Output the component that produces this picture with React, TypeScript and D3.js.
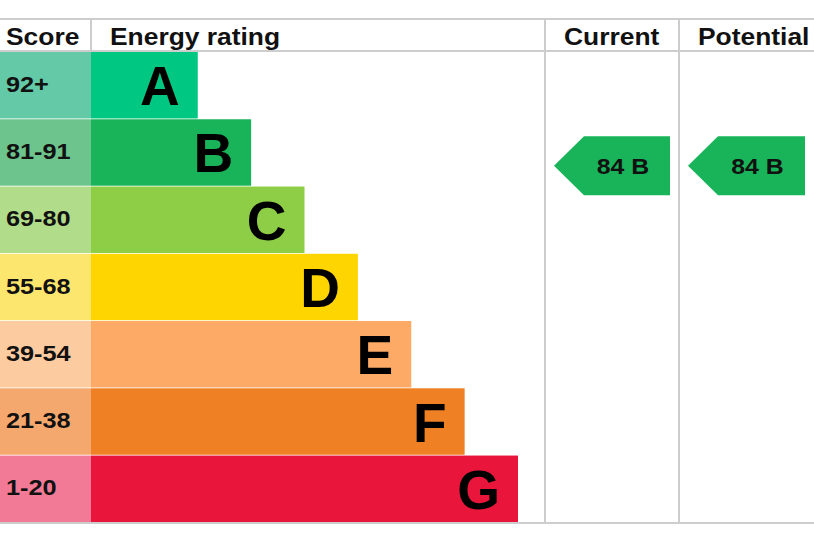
import React, { useEffect, useRef } from 'react';
import * as d3 from 'd3';

// EPC bands, top to bottom
const bands = ['A', 'B', 'C', 'D', 'E', 'F', 'G'];
const scoreLabels = ['92+', '81-91', '69-80', '55-68', '39-54', '21-38', '1-20'];
const bandMin = [92, 81, 69, 55, 39, 21, 1];
const bandMax = [100, 91, 80, 68, 54, 38, 20];
const barColors = ['#00c781', '#19b459', '#8dce46', '#ffd500', '#fcaa65', '#ef8023', '#e9153b'];
const scoreColors = ['#63c9a6', '#6dc48d', '#b1dd8a', '#fde66e', '#fccba0', '#f5a86e', '#f27a96'];

const columns = ['Current', 'Potential'];
const ratings = [84, 84];

const App: React.FC = () => {
    const svgRef = useRef<SVGSVGElement>(null);

    useEffect(() => {
        d3.select(svgRef.current).selectAll('*').remove();

        const width = 814;
        const height = 542;
        const headTop = 19;
        const headBottom = 52;
        const tableBottom = 522;
        const scoreW = 91;
        const colX = [545, 679, 814];
        const font = '"Liberation Sans", Arial, sans-serif';
        const lineColor = '#cdcdcd';

        const svg = d3.select(svgRef.current)
            .attr('width', width)
            .attr('height', height)
            .style('background', '#fff');

        const y = d3.scaleBand<string>()
            .domain(bands)
            .range([headBottom, tableBottom])
            .paddingInner(0.012);

        // bar end grows by one step per band
        const x = d3.scaleLinear().domain([0, 8]).range([scoreW, 518]);

        const rows = svg.append('g');

        rows.selectAll('rect.score')
            .data(bands)
            .enter()
            .append('rect')
            .attr('x', 0)
            .attr('y', d => y(d)!)
            .attr('width', scoreW)
            .attr('height', y.bandwidth())
            .attr('fill', (_, i) => scoreColors[i]);

        rows.selectAll('rect.bar')
            .data(bands)
            .enter()
            .append('rect')
            .attr('x', scoreW)
            .attr('y', d => y(d)!)
            .attr('width', (_, i) => x(i + 2) - scoreW)
            .attr('height', y.bandwidth())
            .attr('fill', (_, i) => barColors[i]);

        // score range labels
        rows.selectAll('text.score')
            .data(bands)
            .enter()
            .append('text')
            .attr('transform', d => `translate(6,${y(d)! + y.bandwidth() / 2 + 6.5}) scale(1.15,1)`)
            .attr('font-family', font)
            .attr('font-weight', 'bold')
            .attr('font-size', 22)
            .attr('fill', '#111')
            .text((_, i) => scoreLabels[i]);

        // band letters
        rows.selectAll('text.band')
            .data(bands)
            .enter()
            .append('text')
            .attr('x', (_, i) => x(i + 2) - 18)
            .attr('y', d => y(d)! + y.bandwidth() / 2 + 20)
            .attr('text-anchor', 'end')
            .attr('font-family', font)
            .attr('font-weight', 'bold')
            .attr('font-size', 55)
            .attr('fill', '#000')
            .text(d => d);

        // grid lines
        const grid = svg.append('g')
            .attr('stroke', lineColor)
            .attr('stroke-width', 2);
        grid.append('line').attr('x1', 0).attr('x2', width).attr('y1', headTop).attr('y2', headTop);
        grid.append('line').attr('x1', 0).attr('x2', width).attr('y1', headBottom - 1).attr('y2', headBottom - 1);
        grid.append('line').attr('x1', 0).attr('x2', width).attr('y1', tableBottom + 1).attr('y2', tableBottom + 1);
        grid.append('line').attr('x1', scoreW).attr('x2', scoreW).attr('y1', headTop).attr('y2', headBottom);
        grid.selectAll('line.col')
            .data(colX.slice(0, 2))
            .enter()
            .append('line')
            .attr('x1', d => d)
            .attr('x2', d => d)
            .attr('y1', headTop)
            .attr('y2', tableBottom + 1);

        // header texts
        const head = svg.append('g')
            .attr('font-family', font)
            .attr('font-weight', 'bold')
            .attr('font-size', 24)
            .attr('fill', '#111');
        head.append('text').attr('transform', `translate(6,45) scale(1.1,1)`).text('Score');
        head.append('text').attr('transform', `translate(${scoreW + 19},45) scale(1.1,1)`).text('Energy rating');
        head.selectAll('text.col')
            .data(columns)
            .enter()
            .append('text')
            .attr('transform', (_, i) => `translate(${colX[i] + 19},45) scale(1.1,1)`)
            .text(d => d);

        // rating arrows, placed by score within its band
        const bandOf = (s: number) => bandMin.findIndex(m => s >= m);
        const arrowH = 59;
        const arrows = svg.selectAll('g.arrow')
            .data(ratings)
            .enter()
            .append('g')
            .attr('transform', (s, i) => {
                const b = bandOf(s);
                const pos = d3.scaleLinear()
                    .domain([bandMax[b], bandMin[b]])
                    .range([y(bands[b])!, y(bands[b])! + y.bandwidth()]);
                return `translate(${colX[i]},${pos(s)})`;
            });

        arrows.append('path')
            .attr('d', (_, i) => {
                const w = colX[i + 1] - colX[i];
                const h = arrowH / 2;
                return `M9,0 L39,${-h} L${w - 9},${-h} L${w - 9},${h} L39,${h} Z`;
            })
            .attr('fill', s => barColors[bandOf(s)]);

        arrows.append('text')
            .attr('transform', (_, i) => `translate(${(colX[i + 1] - colX[i]) / 2 + 11},8) scale(1.13,1)`)
            .attr('text-anchor', 'middle')
            .attr('font-family', font)
            .attr('font-weight', 'bold')
            .attr('font-size', 22)
            .attr('fill', '#111')
            .text(s => `${s} ${bands[bandOf(s)]}`);
    }, []);

    return <svg ref={svgRef} style={{ position: 'absolute', left: 0, top: 0 }}></svg>;
};

export default App;
